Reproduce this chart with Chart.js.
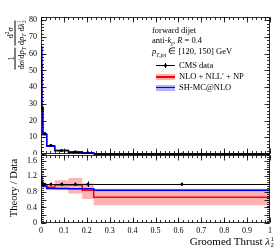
<!DOCTYPE html>
<html>
<head>
<meta charset="utf-8">
<script src="https://cdn.jsdelivr.net/npm/chart.js@4.4.1/dist/chart.umd.min.js"></script>
<style>
    body { margin: 0; background: #fff; }
    #wrap { position: relative; width: 280px; height: 250px; overflow: hidden; font-family: "Liberation Serif", serif; color: #000; }
    .pane { position: absolute; left: 0; width: 280px; }
    .txt { position: absolute; white-space: nowrap; line-height: 1; }
    .rot { position: absolute; white-space: nowrap; transform: translate(-50%, -50%) rotate(-90deg); display: flex; align-items: center; }
    .frac { display: inline-flex; flex-direction: column; align-items: center; margin: 0 1px; line-height: 1.05; }
    .frac .den { border-top: 0.7px solid #000; padding-top: 1px; }
    .ss { display: inline-flex; flex-direction: column; font-size: 0.62em; line-height: 0.95; vertical-align: middle; margin-left: 0.5px; }
    sub, sup { font-size: 0.65em; line-height: 0; }
    .mk { position: absolute; }
</style>
</head>
<body>
<div id="wrap">
    <div class="pane" style="top:0;height:155px"><canvas id="top"></canvas></div>
    <div class="pane" style="top:155px;height:95px"><canvas id="ratio"></canvas></div>

    <div class="rot" style="left:16px;top:45px;font-size:8.5px">
        <span class="frac"><span>1</span><span class="den">d<i>σ</i>/d<i>p</i><sub><i>T</i></sub></span></span>
        <span class="frac"><span>d<sup>2</sup><i>σ</i></span><span class="den">d<i>p</i><sub><i>T</i></sub> d<i>λ</i><span class="ss"><span>1</span><span>2</span></span></span></span>
    </div>
    <div class="rot" style="left:13px;top:188px;font-size:10.5px">Theory / Data</div>

    <div class="txt" style="left:152px;top:26px;font-size:8.5px">forward dijet</div>
    <div class="txt" style="left:152px;top:36px;font-size:8.5px">anti-<i>k</i><sub><i>t</i></sub>, <i>R</i> = 0.4</div>
    <div class="txt" style="left:152px;top:47px;font-size:8.5px"><i>p</i><sub><i>T</i>,jet</sub> ∈ [120, 150] GeV</div>

    <div class="mk" style="left:156px;top:65px;width:19px;height:1px;background:#000"></div>
    <div class="mk" style="left:164.5px;top:63px;width:1px;height:5px;background:#000"></div>
    <div class="mk" style="left:163.5px;top:64px;width:3px;height:3px;border-radius:50%;background:#000"></div>
    <div class="txt" style="left:179px;top:61px;font-size:8.5px">CMS data</div>

    <div class="mk" style="left:156px;top:74px;width:19px;height:6px;background:rgba(255,0,0,0.3)"></div>
    <div class="mk" style="left:156px;top:76px;width:19px;height:1.5px;background:#f00"></div>
    <div class="txt" style="left:179px;top:72px;font-size:8.5px">NLO + NLL′ + NP</div>

    <div class="mk" style="left:156px;top:84.5px;width:19px;height:6px;background:rgba(0,0,255,0.3)"></div>
    <div class="mk" style="left:156px;top:86.5px;width:19px;height:1.5px;background:#00f"></div>
    <div class="txt" style="left:179px;top:83px;font-size:8.5px">SH-MC@NLO</div>

    <div class="txt" style="right:6px;top:236px;font-size:11px">Groomed Thrust <i>λ</i><span class="ss"><span>1</span><span>2</span></span></div>
</div>
<script>
// bin edges of groomed thrust
const EDGES = [0, 0.004, 0.008, 0.025, 0.06, 0.12, 0.18, 0.23, 1.0];
const DATA_X = [0.002, 0.006, 0.016, 0.043, 0.09, 0.15, 0.205, 0.615];

// top panel: normalised distribution
const CMS_DATA = [53, 27, 12.3, 5.3, 2.1, 1.3, 0.8, 0.06];
const CMS_ERR = [3, 1.5, 0.5, 0.25, 0.12, 0.08, 0.06, 0.004];
const NLO_NLL = [50, 27.5, 11.8, 4.8, 2.2, 1.35, 0.7, 0.04];
const SH_MCNLO = [64, 28, 11.5, 4.7, 1.9, 1.15, 0.7, 0.05];

// lower panel: theory / data
const RATIO_DATA_ERR = [0.06, 0.05, 0.03, 0.04, 0.04, 0.04, 0.07, 0.04];
const RATIO_NLO = [1.0, 1.0, 0.95, 0.92, 0.98, 0.98, 0.84, 0.66];
const RATIO_NLO_LO = [0.96, 0.96, 0.9, 0.86, 0.84, 0.76, 0.62, 0.46];
const RATIO_NLO_HI = [1.04, 1.04, 1.0, 0.98, 1.1, 1.16, 1.02, 0.88];
const RATIO_SH = [1.2, 1.05, 0.95, 0.89, 0.89, 0.88, 0.88, 0.84];
const RATIO_SH_LO = [1.17, 1.03, 0.93, 0.87, 0.87, 0.86, 0.86, 0.82];
const RATIO_SH_HI = [1.23, 1.07, 0.97, 0.91, 0.91, 0.9, 0.9, 0.86];

const X_TICKS = [0, 0.1, 0.2, 0.3, 0.4, 0.5, 0.6, 0.7, 0.8, 0.9, 1];
const TOP_Y_TICKS = [0, 10, 20, 30, 40, 50, 60, 70, 80];
const RATIO_Y_TICKS = [0, 0.2, 0.4, 0.6, 0.8, 1, 1.2, 1.4, 1.6];

const FONT = { family: "Liberation Serif", size: 8 };

function minorTicks(lo, hi, step) {
    const out = [];
    for (let i = Math.round(lo / step); i * step <= hi + 1e-9; i += 1) {
        out.push(i * step);
    }
    return out;
}

// histogram outline: one point per left edge, plus closing point
function hist(values) {
    const pts = values.map((v, i) => ({ x: EDGES[i], y: v }));
    pts.push({ x: EDGES[EDGES.length - 1], y: values[values.length - 1] });
    return pts;
}

function histLine(values, color, order) {
    return {
        data: hist(values), stepped: "before", borderColor: color, borderWidth: 1.5,
        pointRadius: 0, fill: false, order,
    };
}

function histBand(lo, hi, color, baseIndex, order) {
    return [
        { data: hist(lo), stepped: "before", borderWidth: 0, pointRadius: 0, fill: false, order },
        { data: hist(hi), stepped: "before", borderWidth: 0, pointRadius: 0, fill: baseIndex, backgroundColor: color, order },
    ];
}

function dataPoints(values, errors) {
    return {
        type: "scatter",
        data: values.map((v, i) => ({ x: DATA_X[i], y: v })),
        errY: errors,
        pointRadius: 1.5, pointHoverRadius: 0, pointBackgroundColor: "#000", pointBorderWidth: 0, order: 0,
    };
}

// error bars (vertical) and bin-width bars (horizontal)
const errorBars = {
    id: "errorBars",
    afterDatasetsDraw(chart) {
        const { ctx, scales: { x, y } } = chart;
        ctx.save();
        ctx.strokeStyle = "#000";
        ctx.lineWidth = 1;
        chart.data.datasets.forEach((ds) => {
            if (!ds.errY) {
                return;
            }
            ds.data.forEach((p, j) => {
                const px = Math.round(x.getPixelForValue(p.x)) + 0.5;
                const py = Math.round(y.getPixelForValue(p.y)) + 0.5;
                ctx.beginPath();
                ctx.moveTo(x.getPixelForValue(EDGES[j]), py);
                ctx.lineTo(x.getPixelForValue(EDGES[j + 1]), py);
                ctx.moveTo(px, y.getPixelForValue(p.y - ds.errY[j]));
                ctx.lineTo(px, y.getPixelForValue(p.y + ds.errY[j]));
                ctx.stroke();
            });
        });
        ctx.restore();
    },
};

// frame with inward major / minor ticks on all four sides
const frameTicks = {
    id: "frameTicks",
    afterDraw(chart, args, opts) {
        const { ctx, chartArea: a, scales: { x, y } } = chart;
        const L = Math.round(a.left) + 0.5;
        const R = Math.round(a.right) - 0.5;
        const T = Math.round(a.top) + 0.5;
        const B = Math.round(a.bottom) - 0.5;
        ctx.save();
        ctx.strokeStyle = "#000";
        ctx.lineWidth = 0.8;
        ctx.strokeRect(L, T, R - L, B - T);
        ctx.beginPath();
        const xt = (vals, len) => vals.forEach((v) => {
            const px = Math.round(x.getPixelForValue(v)) + 0.5;
            ctx.moveTo(px, B); ctx.lineTo(px, B - len);
            ctx.moveTo(px, T); ctx.lineTo(px, T + len);
        });
        const yt = (vals, len) => vals.forEach((v) => {
            const py = Math.round(y.getPixelForValue(v)) + 0.5;
            ctx.moveTo(L, py); ctx.lineTo(L + len, py);
            ctx.moveTo(R, py); ctx.lineTo(R - len, py);
        });
        xt(X_TICKS, 5);
        xt(opts.xMinor, 2.5);
        yt(opts.yMajor, 5);
        yt(opts.yMinor, 2.5);
        ctx.stroke();
        ctx.restore();
    },
};

function baseOptions(yMin, yMax, yTicks, padding) {
    return {
        responsive: true,
        maintainAspectRatio: false,
        animation: false,
        events: [],
        layout: { padding, autoPadding: false },
        plugins: { legend: { display: false }, tooltip: { enabled: false } },
        scales: {
            x: {
                type: "linear", min: 0, max: 1, display: false,
                grid: { display: false, drawTicks: false }, border: { display: false },
                afterBuildTicks(scale) { scale.ticks = X_TICKS.map((v) => ({ value: v })); },
                afterFit(scale) { scale.paddingLeft = 0; scale.paddingRight = 0; },
                ticks: { autoSkip: false, maxRotation: 0, padding: 3, color: "#000", font: FONT,
                    callback: (v) => String(Number(v.toFixed(2))) },
            },
            y: {
                type: "linear", min: yMin, max: yMax,
                grid: { display: false, drawTicks: false }, border: { display: false },
                afterBuildTicks(scale) { scale.ticks = yTicks.map((v) => ({ value: v })); },
                afterFit(scale) { scale.width = 41; scale.paddingTop = 0; scale.paddingBottom = 0; },
                ticks: { padding: 4, color: "#000", font: FONT,
                    callback: (v) => String(Number(v.toFixed(2))) },
            },
        },
    };
}

Chart.register(errorBars, frameTicks);

const topOpts = baseOptions(0, 82, TOP_Y_TICKS, { top: 17, right: 10, bottom: 1, left: 0 });
topOpts.plugins.frameTicks = { xMinor: minorTicks(0, 1, 0.02), yMajor: TOP_Y_TICKS, yMinor: minorTicks(0, 82, 2) };

new Chart(document.getElementById("top"), {
    type: "line",
    data: {
        datasets: [
            dataPoints(CMS_DATA, CMS_ERR),
            histLine(SH_MCNLO, "#0000ff", 1),
            histLine(NLO_NLL, "#ff0000", 2),
        ],
    },
    options: topOpts,
});

const ratioOpts = baseOptions(0, 1.75, RATIO_Y_TICKS, { top: 0, right: 10, bottom: 0, left: 0 });
ratioOpts.scales.x.display = true;
ratioOpts.scales.x.afterFit = (scale) => { scale.height = 27; scale.paddingLeft = 0; scale.paddingRight = 0; };
ratioOpts.plugins.frameTicks = { xMinor: minorTicks(0, 1, 0.02), yMajor: RATIO_Y_TICKS, yMinor: minorTicks(0, 1.75, 0.05) };

new Chart(document.getElementById("ratio"), {
    type: "line",
    data: {
        datasets: [
            ...histBand(RATIO_NLO_LO, RATIO_NLO_HI, "rgba(255,0,0,0.3)", 0, 6),
            ...histBand(RATIO_SH_LO, RATIO_SH_HI, "rgba(0,0,255,0.3)", 2, 5),
            histLine(RATIO_NLO, "#ff0000", 3),
            histLine(RATIO_SH, "#0000ff", 2),
            dataPoints(CMS_DATA.map(() => 1), RATIO_DATA_ERR),
        ],
    },
    options: ratioOpts,
});
</script>
</body>
</html>
